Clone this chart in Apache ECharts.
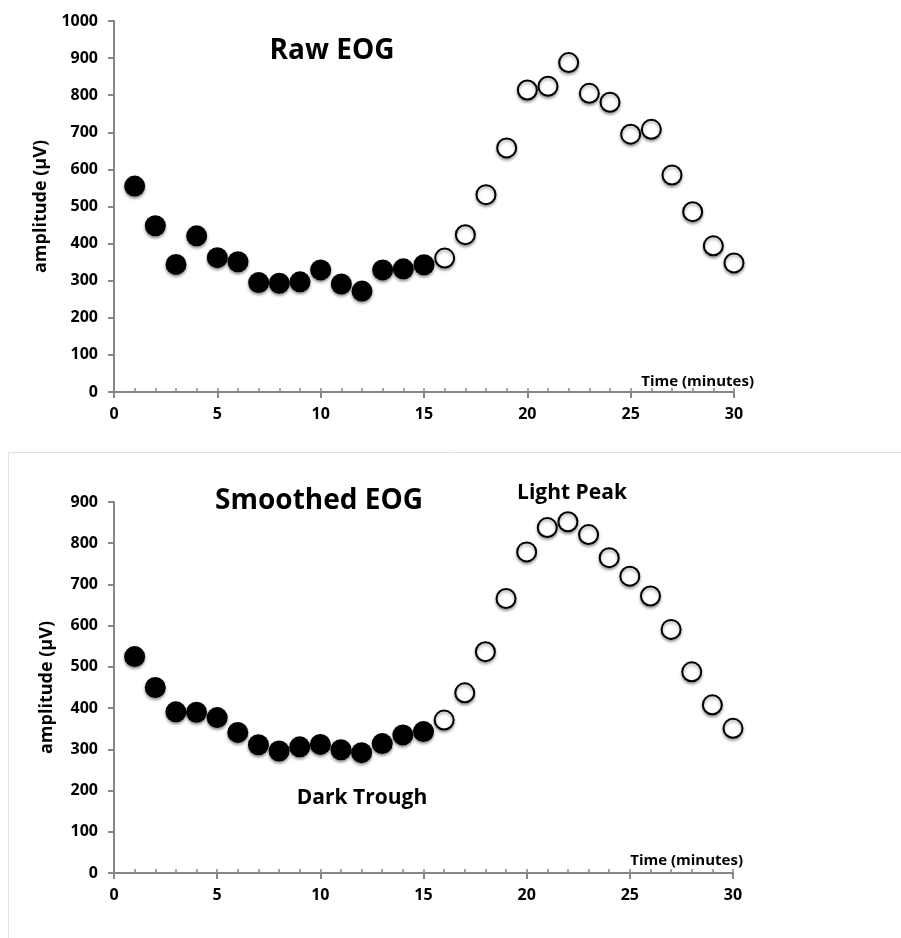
<!DOCTYPE html>
<html>
<head>
<meta charset="utf-8">
<title>EOG</title>
<script src="https://cdn.jsdelivr.net/npm/echarts@6/dist/echarts.min.js"></script>
<style>
  html, body { margin: 0; padding: 0; background: #fff; }
  #chart { width: 901px; height: 938px; }
</style>
</head>
<body>
<div id="chart"></div>
<script>
// minutes 1..30, first 15 dark-adapted (filled), last 15 light (open)
const darkMinutes = [1, 2, 3, 4, 5, 6, 7, 8, 9, 10, 11, 12, 13, 14, 15]
const lightMinutes = [16, 17, 18, 19, 20, 21, 22, 23, 24, 25, 26, 27, 28, 29, 30]

const rawDark = [555, 448, 344, 421, 362, 351, 295, 293, 297, 329, 291, 272, 329, 332, 343]
const rawLight = [361, 424, 532, 658, 814, 824, 888, 805, 781, 695, 708, 585, 486, 394, 348]

const smoothDark = [525, 450, 391, 390, 377, 341, 311, 296, 306, 312, 299, 292, 314, 335, 343]
const smoothLight = [371, 437, 537, 666, 779, 838, 852, 821, 765, 720, 672, 591, 488, 408, 351]

const xTicks = [0, 5, 10, 15, 20, 25, 30]

const FONT = '"Open Sans", "Noto Sans", sans-serif'
const AXIS_COLOR = '#868686'

const pair = (xs, ys) => xs.map((x, i) => [x, ys[i]])

const myChart = echarts.init(document.getElementById('chart'))

const makeX = (gridIndex) => ([
  {
    gridIndex,
    type: 'value',
    position: 'bottom',
    min: 0,
    max: 30,
    interval: 5,
    axisLine: { onZero: false, lineStyle: { color: AXIS_COLOR, width: 2 } },
    axisTick: { length: 6, lineStyle: { color: AXIS_COLOR, width: 2 } },
    axisLabel: {
      color: '#000', fontFamily: FONT, fontWeight: 'bold', fontSize: 16, margin: 14,
      formatter: v => xTicks.includes(v) ? String(v) : ''
    },
    splitLine: { show: false }
  },
  {
    gridIndex,
    type: 'value',
    position: 'bottom',
    min: 0,
    max: 30,
    interval: 1,
    axisLine: { show: false },
    axisTick: { inside: true, length: 4, lineStyle: { color: AXIS_COLOR, width: 1.5 } },
    axisLabel: { show: false },
    splitLine: { show: false }
  }
])

const makeY = (gridIndex, max, gap) => ({
  gridIndex,
  type: 'value',
  min: 0,
  max,
  interval: 100,
  name: 'amplitude (µV)',
  nameLocation: 'middle',
  nameGap: gap,
  nameTextStyle: { color: '#000', fontFamily: FONT, fontWeight: 'bold', fontSize: 18 },
  axisLine: { show: true, lineStyle: { color: AXIS_COLOR, width: 2 } },
  axisTick: { show: true, length: 6, lineStyle: { color: AXIS_COLOR, width: 2 } },
  axisLabel: {
    color: '#000', fontFamily: FONT, fontWeight: 'bold', fontSize: 16, margin: 16,
    formatter: v => String(v)
  },
  splitLine: { show: false }
})

const filled = {
  color: '#000',
  opacity: 1,
  shadowBlur: 3,
  shadowColor: 'rgba(0,0,0,0.45)',
  shadowOffsetY: 2
}
const open = {
  color: '#fff',
  opacity: 1,
  borderColor: '#000',
  borderWidth: 2,
  shadowBlur: 3,
  shadowColor: 'rgba(0,0,0,0.35)',
  shadowOffsetY: 2
}

const scatter = (name, xIdx, yIdx, data, style, size) => ({
  name,
  type: 'scatter',
  xAxisIndex: xIdx,
  yAxisIndex: yIdx,
  data,
  symbol: 'circle',
  symbolSize: size,
  itemStyle: style,
  z: 5
})

const bold = (text, x, y, size, align) => ({
  type: 'text',
  x,
  y,
  style: {
    text,
    fill: '#000',
    font: 'bold ' + size + 'px ' + FONT,
    textAlign: align || 'center',
    textVerticalAlign: 'middle'
  },
  z: 10
})

const option = {
  animation: false,
  backgroundColor: '#fff',
  grid: [
    { left: 114, top: 21, width: 620, height: 371 },
    { left: 114, top: 502, width: 619, height: 371 }
  ],
  xAxis: [...makeX(0), ...makeX(1)],
  yAxis: [makeY(0, 1000, 64), makeY(1, 900, 58)],
  series: [
    scatter('Raw dark', 0, 0, pair(darkMinutes, rawDark), filled, 21),
    scatter('Raw light', 0, 0, pair(lightMinutes, rawLight), open, 19),
    scatter('Smoothed dark', 2, 1, pair(darkMinutes, smoothDark), filled, 21),
    scatter('Smoothed light', 2, 1, pair(lightMinutes, smoothLight), open, 19)
  ],
  graphic: [
    {
      type: 'rect',
      shape: { x: 8.5, y: 452.5, width: 1000, height: 600 },
      style: { fill: 'none', stroke: '#e2e2e2', lineWidth: 1 },
      z: 0
    },
    bold('Raw EOG', 332, 51, 28),
    bold('Smoothed EOG', 319, 501, 28),
    bold('Light Peak', 572, 493, 21),
    bold('Dark Trough', 362, 798, 21),
    bold('Time (minutes)', 754, 382, 15, 'right'),
    bold('Time (minutes)', 743, 861, 15, 'right')
  ]
}

myChart.setOption(option)
</script>
</body>
</html>
